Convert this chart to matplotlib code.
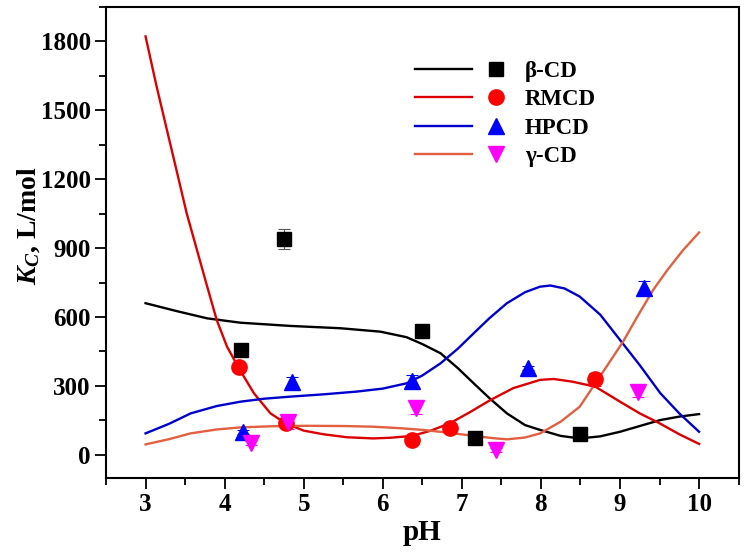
import matplotlib
matplotlib.use("Agg")
import matplotlib.pyplot as plt
from matplotlib.ticker import MultipleLocator

plt.rcParams['font.family'] = ['Liberation Serif', 'DejaVu Serif']
plt.rcParams['font.weight'] = 'bold'
plt.rcParams['mathtext.fontset'] = 'custom'
plt.rcParams['mathtext.rm'] = 'Liberation Serif:bold'
plt.rcParams['mathtext.it'] = 'Liberation Serif:italic:bold'
plt.rcParams['mathtext.bf'] = 'Liberation Serif:bold'

# ---- data: fitted curves ----
ph_black = [3.0, 3.4, 3.78, 4.2, 4.83, 5.46, 5.97, 6.3, 6.5, 6.73, 6.95, 7.15, 7.35, 7.57, 7.8, 7.99, 8.25, 8.49, 8.75, 9.0, 9.25, 9.51, 9.75, 10.0]
kc_black = [660, 625, 594, 575, 561, 551, 536, 512, 482, 442, 377, 311, 246, 180, 129, 108, 82, 71, 80, 100, 125, 151, 166, 177]

ph_red = [3.0, 3.14, 3.27, 3.40, 3.52, 3.65, 3.78, 3.90, 4.03, 4.18, 4.37, 4.58, 4.77, 5.0, 5.25, 5.55, 5.88, 6.1, 6.37, 6.6, 6.85, 7.1, 7.36, 7.65, 7.99, 8.16, 8.4, 8.69, 9.0, 9.25, 9.5, 9.75, 10.0]
kc_red = [1822, 1604, 1415, 1227, 1052, 892, 732, 587, 471, 377, 268, 180, 137, 105, 89, 76, 71, 74, 82, 104, 137, 185, 238, 290, 326, 330, 318, 296, 231, 180, 137, 89, 47]

ph_blue = [3.0, 3.3, 3.57, 3.9, 4.2, 4.5, 4.83, 5.25, 5.67, 6.0, 6.3, 6.5, 6.73, 6.95, 7.15, 7.35, 7.57, 7.8, 7.99, 8.12, 8.3, 8.49, 8.75, 9.0, 9.25, 9.51, 9.75, 10.0]
kc_blue = [93, 135, 180, 212, 231, 244, 253, 263, 275, 288, 311, 345, 398, 462, 529, 595, 660, 708, 732, 737, 724, 689, 610, 500, 390, 268, 180, 100]

ph_orange = [3.0, 3.3, 3.57, 3.9, 4.2, 4.6, 5.04, 5.5, 5.88, 6.2, 6.51, 6.85, 7.15, 7.4, 7.57, 7.8, 7.99, 8.25, 8.49, 8.83, 9.04, 9.22, 9.42, 9.6, 9.8, 10.0]
kc_orange = [45, 68, 93, 110, 119, 124, 126, 125, 122, 116, 108, 95, 82, 72, 67, 75, 93, 144, 209, 384, 493, 602, 718, 805, 892, 968]

# ---- data: measured points ----
ph_bcd = [4.21, 4.75, 6.50, 7.16, 8.50]
kc_bcd = [456, 939, 539, 74, 90]
err_bcd = [12, 45, 12, 8, 8]

ph_rm = [4.18, 4.77, 6.37, 6.85, 8.69]
kc_rm = [381, 137, 64, 115, 329]
err_rm = [8, 10, 8, 8, 28]

ph_hp = [4.23, 4.85, 6.37, 7.84, 9.30]
kc_hp = [100, 315, 323, 377, 725]
err_hp = [8, 25, 25, 8, 30]

ph_gcd = [4.33, 4.80, 6.42, 7.43, 9.23]
kc_gcd = [52, 141, 205, 20, 275]
err_gcd = [8, 28, 28, 8, 22]

labels = ['β-CD', 'RMCD', 'HPCD', 'γ-CD']

fig = plt.figure(figsize=(7.46, 5.53), dpi=100)
ax = fig.add_axes([0.1421, 0.1362, 0.848, 0.8511])

l1, = ax.plot(ph_black, kc_black, color='black', lw=1.7)
l2, = ax.plot(ph_red, kc_red, color='#DD0000', lw=1.7)
l3, = ax.plot(ph_blue, kc_blue, color='#0000CC', lw=1.7)
l4, = ax.plot(ph_orange, kc_orange, color='#E2603F', lw=1.7)

ekw = dict(ls='none', elinewidth=0.8, capsize=4, capthick=0.8)
ax.errorbar(ph_bcd, kc_bcd, yerr=err_bcd, ecolor='#555555', **ekw)
ax.errorbar(ph_rm, kc_rm, yerr=err_rm, ecolor='#FF0000', **ekw)
ax.errorbar(ph_hp, kc_hp, yerr=err_hp, ecolor='#0000FF', **ekw)
ax.errorbar(ph_gcd, kc_gcd, yerr=err_gcd, ecolor='#FF00FF', **ekw)

m1, = ax.plot(ph_bcd, kc_bcd, 's', color='black', ms=10, ls='none')
m2, = ax.plot(ph_rm, kc_rm, 'o', color='#FF0000', ms=11, ls='none')
m3, = ax.plot(ph_hp, kc_hp, '^', color='#0000FF', ms=12, ls='none')
m4, = ax.plot(ph_gcd, kc_gcd, 'v', color='#FF00FF', ms=12, ls='none')

ax.set_xlim(2.5, 10.5)
ax.set_ylim(-100, 1950)
ax.xaxis.set_major_locator(MultipleLocator(1))
ax.xaxis.set_minor_locator(MultipleLocator(0.5))
ax.yaxis.set_major_locator(MultipleLocator(300))
ax.yaxis.set_minor_locator(MultipleLocator(150))
ax.tick_params(which='both', direction='out', width=1.3, labelsize=18)
ax.tick_params(which='major', length=8, pad=3)
ax.tick_params(which='minor', length=5)
for lab in ax.get_xticklabels() + ax.get_yticklabels():
    lab.set_fontweight('bold')
for s in ax.spines.values():
    s.set_linewidth(1.5)

ax.set_xlabel('pH', fontsize=21, fontweight='bold', labelpad=2)
ax.set_ylabel(r'$K_{C}$, L/mol', fontsize=20, fontweight='bold')
ax.yaxis.set_label_coords(-0.101, 0.535)

leg = ax.legend([l1, l2, l3, l4, m1, m2, m3, m4],
                ['', '', '', ''] + labels,
                ncol=2, loc='upper left', bbox_to_anchor=(0.474, 0.905),
                frameon=False, fontsize=16.5, handlelength=2.5,
                handletextpad=0.0, columnspacing=-0.2, labelspacing=0.32,
                borderaxespad=0, numpoints=1)
for t in leg.get_texts():
    t.set_fontweight('bold')

fig.savefig('out.png', dpi=100)
